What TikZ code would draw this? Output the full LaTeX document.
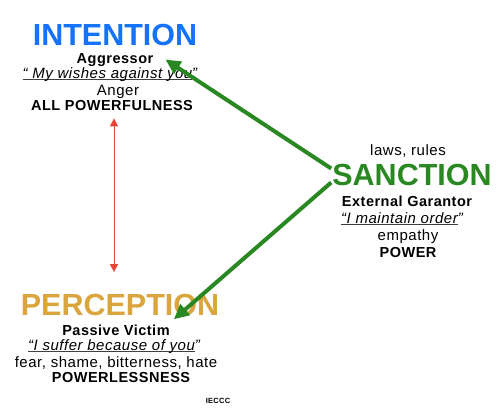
\documentclass[tikz,border=0pt]{standalone}
\usepackage{fontspec}
\setmainfont{Liberation Sans}
\newfontfamily\spacedsans[LetterSpace=3.5]{Liberation Sans}
\usepackage{xcolor}
\usepackage{tikz}
\usetikzlibrary{arrows.meta,positioning,calc}
\definecolor{intentblue}{RGB}{20,115,250}
\definecolor{sanctgreen}{RGB}{42,136,34}
\definecolor{perceptgold}{RGB}{218,165,60}
\definecolor{arrowred}{RGB}{232,68,55}
% underline that sits just under the baseline
\newcommand\quoteul[1]{\setbox0=\hbox{#1}\rlap{\color{black!75}\rule[-1.8pt]{\wd0}{0.6pt}}\box0}

\begin{document}
\begin{tikzpicture}[x=1pt,y=-1pt,>=Stealth,
  every node/.style={inner sep=1pt,anchor=base},
  heading/.style={font=\fontsize{30.5}{31}\selectfont\bfseries},
  boldline/.style={font=\spacedsans\fontsize{14.5}{15}\selectfont\bfseries},
  plainline/.style={font=\spacedsans\fontsize{15}{16}\selectfont},
  quoteline/.style={font=\spacedsans\fontsize{15}{16}\selectfont\itshape},
  greenarrow/.style={draw=sanctgreen,line width=4pt,-{Triangle[length=15pt,width=14pt]}},
  redarrow/.style={draw=arrowred,line width=1pt,{Triangle[length=8pt,width=8pt]}-{Triangle[length=8pt,width=8pt]}}]
  \useasboundingbox (0,0) rectangle (500,413);
  % intention
  \node[heading,text=intentblue] (intention) at (115,45) {INTENTION};
  \node[boldline] (aggressor) at (115,63) {Aggressor};
  \node[quoteline] (wishes) at (110,78) {\quoteul{“ My wishes against you}”};
  \node[plainline] (anger) at (118,95) {Anger};
  \node[boldline] (powerful) at (112,110) {ALL POWERFULNESS};
  % sanction
  \node[plainline] (laws) at (408,155) {laws, rules};
  \node[heading,text=sanctgreen] (sanction) at (412,185) {SANCTION};
  \node[boldline] (garantor) at (407,206) {External Garantor};
  \node[quoteline] (order) at (402,223) {\quoteul{“I maintain order}”};
  \node[plainline] (empathy) at (408,240) {empathy};
  \node[boldline] (power) at (408,257) {POWER};
  % perception
  \node[heading,text=perceptgold] (perception) at (120,315) {PERCEPTION};
  \node[boldline] (victim) at (116,335) {Passive Victim};
  \node[quoteline] (suffer) at (114,350) {\quoteul{“I suffer because of you}”};
  \node[plainline] (fear) at (116,367) {fear, shame, bitterness, hate};
  \node[boldline] (powerless) at (121,382) {POWERLESSNESS};
  \node[font=\spacedsans\fontsize{7.5}{8}\selectfont\bfseries] (ieccc) at (218,403) {IECCC};
  % arrows
  \draw[redarrow,shorten <=7pt,shorten >=20.4pt] ([xshift=2pt]powerful.south) -- ([xshift=2pt]powerful.south |- perception.north);
  \draw[greenarrow] ([yshift=6pt]sanction.west) -- ([xshift=11pt]aggressor.east);
  \draw[greenarrow] ([yshift=-8pt]sanction.west) -- ([shift={(3pt,4pt)}]victim.north east);
\end{tikzpicture}
\end{document}
